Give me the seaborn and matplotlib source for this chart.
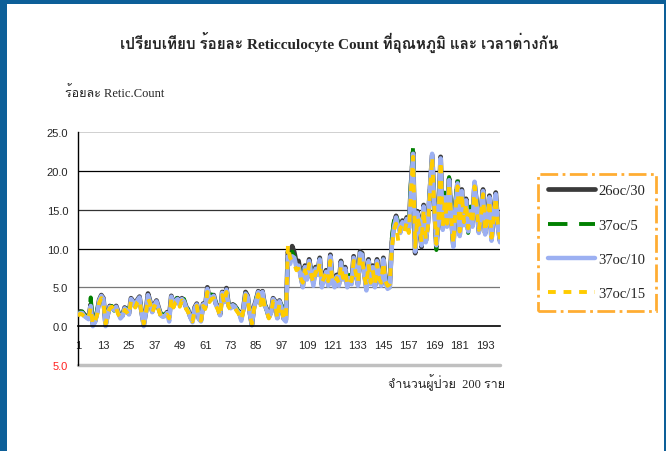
import numpy as np
import pandas as pd
import seaborn as sns
import matplotlib.pyplot as plt
from matplotlib import font_manager
from matplotlib.ft2font import FT2Font
from matplotlib.patches import Rectangle

# ข้อมูลผู้ป่วย 200 ราย (อ่านค่าจากกราฟ)
patients = list(range(1, 201))

s26_30 = [
    1.6, 1.9, 1.8, 1.5, 1.2, 1.0, 2.8, 0.3, 0.6, 1.8, 3.4, 4.0, 3.6, 0.2, 1.5, 2.6, 2.4, 2.2, 2.6, 1.8,
    1.2, 1.4, 2.4, 2.1, 1.6, 3.6, 3.2, 2.6, 3.4, 3.8, 1.8, 0.2, 1.8, 4.2, 3.2, 1.9, 2.8, 3.3, 2.4, 1.5,
    1.3, 1.4, 1.8, 1.2, 3.9, 2.6, 3.4, 3.6, 2.8, 3.6, 3.3, 2.5, 2.0, 1.2, 0.7, 2.4, 2.9, 1.0, 0.8, 2.9,
    2.5, 5.0, 3.4, 3.8, 4.0, 2.9, 2.4, 1.5, 4.4, 3.2, 4.9, 2.7, 2.4, 2.8, 2.6, 2.1, 1.8, 1.0, 2.3, 4.4,
    3.9, 1.8, 0.2, 2.5, 3.4, 4.5, 3.0, 4.5, 2.8, 2.2, 1.2, 1.8, 3.6, 3.2, 1.1, 3.3, 2.5, 1.0, 0.8, 9.6,
    8.6, 10.3, 9.5, 8.2, 8.4, 6.6, 5.2, 7.8, 6.2, 8.6, 7.0, 5.6, 7.6, 6.8, 8.8, 5.4, 6.2, 7.2, 5.6, 9.2,
    5.8, 5.2, 6.6, 5.4, 8.4, 6.2, 7.6, 5.2, 6.4, 5.6, 9.0, 7.2, 5.4, 9.6, 9.4, 6.8, 5.0, 8.6, 5.6, 7.8,
    5.2, 8.6, 6.4, 5.4, 8.8, 6.0, 5.0, 5.2, 10.8, 13.2, 14.2, 13.0, 12.2, 13.6, 12.8, 14.0, 12.6, 18.0, 22.4, 9.4,
    14.8, 13.6, 10.2, 15.6, 11.0, 13.4, 17.8, 22.0, 16.0, 10.2, 14.4, 21.8, 12.6, 16.8, 13.0, 19.0, 14.2, 10.4, 15.6, 18.6,
    11.8, 17.6, 13.2, 16.4, 12.4, 15.0, 13.0, 18.4, 15.8, 12.2, 14.8, 17.6, 12.0, 14.2, 16.8, 11.2, 14.6, 17.2, 13.0, 11.0,
]

s37_5 = [
    1.4, 1.8, 1.9, 1.4, 1.3, 1.1, 3.7, 0.4, 0.8, 2.0, 3.2, 3.8, 3.4, 0.4, 1.8, 2.4, 2.6, 2.0, 2.4, 1.6,
    1.1, 1.6, 2.2, 2.3, 1.8, 3.4, 3.0, 2.8, 3.2, 3.6, 2.0, 0.4, 2.0, 3.9, 3.0, 2.1, 2.6, 3.1, 2.2, 1.7,
    1.4, 1.6, 1.6, 1.4, 3.7, 2.8, 3.2, 3.8, 2.6, 3.4, 3.5, 2.3, 2.2, 1.4, 0.9, 2.2, 2.7, 1.2, 1.0, 2.7,
    2.7, 4.7, 3.6, 4.1, 3.8, 3.1, 2.2, 1.7, 4.2, 3.4, 4.6, 2.9, 2.2, 3.0, 2.4, 2.3, 1.6, 1.2, 2.5, 4.2,
    3.7, 2.0, 0.4, 2.7, 3.6, 4.3, 3.2, 4.3, 3.0, 2.0, 1.4, 2.0, 3.4, 3.0, 1.3, 3.1, 2.7, 1.2, 1.0, 9.2,
    8.2, 9.6, 9.0, 7.8, 8.0, 6.8, 5.4, 7.4, 6.4, 8.4, 7.2, 5.8, 7.4, 7.0, 8.6, 5.2, 6.4, 7.0, 5.2, 8.8,
    6.0, 5.4, 6.4, 5.6, 8.2, 6.4, 7.4, 5.4, 6.6, 5.4, 8.8, 7.4, 5.6, 9.4, 9.2, 7.0, 5.2, 8.4, 5.8, 7.6,
    5.4, 8.4, 6.6, 5.2, 8.6, 6.2, 5.2, 5.0, 11.4, 13.6, 14.6, 13.2, 12.4, 13.2, 13.0, 13.6, 12.8, 18.6, 23.0, 10.0,
    14.4, 13.8, 10.6, 15.2, 11.4, 13.0, 18.2, 21.6, 16.4, 9.8, 14.8, 21.4, 12.2, 17.2, 13.4, 19.2, 14.6, 10.0, 16.0, 19.0,
    12.0, 17.2, 13.6, 16.0, 12.0, 15.4, 13.4, 18.0, 16.0, 12.6, 14.4, 17.2, 12.4, 14.6, 16.4, 11.6, 14.2, 16.8, 13.4, 11.4,
]

s37_10 = [
    1.5, 1.7, 1.7, 1.3, 1.1, 0.9, 2.6, 0.0, 0.5, 1.6, 3.3, 3.9, 3.5, 0.0, 1.4, 2.5, 2.3, 2.1, 2.5, 1.7,
    1.0, 1.3, 2.3, 2.0, 1.5, 3.5, 3.1, 2.5, 3.3, 3.7, 1.7, 0.0, 1.7, 4.0, 3.1, 1.8, 2.7, 3.2, 2.3, 1.4,
    1.2, 1.3, 1.7, 0.6, 3.8, 2.5, 3.3, 3.5, 2.7, 3.5, 3.2, 2.4, 1.9, 1.1, 0.5, 2.3, 2.8, 0.9, 0.6, 2.8,
    2.4, 4.8, 3.3, 3.7, 3.9, 2.8, 2.3, 1.4, 4.3, 3.1, 4.7, 2.6, 2.3, 2.7, 2.5, 2.0, 1.7, 0.7, 2.2, 4.2,
    3.8, 1.7, 0.1, 2.4, 3.3, 4.4, 2.9, 4.4, 2.7, 2.1, 1.1, 1.7, 3.5, 3.1, 1.0, 3.2, 2.4, 0.9, 0.6, 9.0,
    8.0, 9.0, 8.8, 7.6, 7.8, 6.4, 5.0, 7.6, 6.0, 8.4, 6.8, 5.2, 7.4, 6.6, 8.6, 5.0, 6.0, 7.0, 5.2, 9.0,
    5.6, 5.0, 6.4, 5.2, 8.2, 6.0, 7.4, 5.0, 6.2, 5.4, 8.8, 7.0, 5.2, 9.4, 9.2, 6.6, 4.6, 8.4, 5.4, 7.6,
    5.0, 8.4, 6.2, 5.2, 8.6, 5.8, 4.8, 5.0, 10.4, 12.8, 14.0, 12.8, 12.0, 13.4, 12.6, 13.8, 12.4, 17.6, 22.2, 9.6,
    14.6, 13.4, 10.4, 15.4, 10.8, 13.2, 18.0, 22.2, 15.8, 10.4, 14.2, 21.6, 12.4, 16.6, 12.8, 18.8, 14.0, 10.2, 15.4, 18.4,
    11.6, 17.4, 13.0, 16.2, 12.2, 14.8, 12.8, 18.6, 15.6, 12.0, 14.6, 17.4, 11.8, 14.0, 16.6, 11.0, 14.4, 17.0, 12.8, 10.8,
]

s37_15 = [
    1.3, 1.6, 1.5, 1.2, 1.0, 1.0, 2.4, 0.2, 0.7, 1.4, 3.0, 3.6, 3.2, 0.3, 1.6, 2.3, 2.5, 1.9, 2.3, 1.5,
    1.2, 1.2, 2.1, 1.8, 1.4, 3.3, 2.9, 2.4, 3.1, 3.4, 1.6, 0.3, 1.6, 3.6, 2.9, 1.7, 2.5, 3.0, 2.1, 1.3,
    1.3, 1.2, 1.5, 1.0, 3.5, 2.4, 3.1, 3.3, 2.5, 3.3, 3.0, 2.2, 1.8, 1.0, 0.6, 2.1, 2.6, 1.0, 0.7, 2.6,
    2.2, 4.4, 3.1, 3.5, 3.6, 2.6, 2.1, 1.3, 4.0, 2.9, 4.4, 2.5, 2.1, 2.5, 2.3, 1.9, 1.5, 0.8, 2.0, 4.0,
    3.5, 1.6, 0.3, 2.2, 3.1, 4.1, 2.7, 4.1, 2.5, 1.9, 1.0, 1.6, 3.2, 2.9, 1.0, 2.9, 2.2, 1.0, 0.8, 10.4,
    8.8, 8.4, 8.0, 7.2, 7.4, 6.2, 5.6, 7.2, 6.4, 8.0, 6.6, 5.6, 7.0, 6.4, 8.2, 5.6, 6.2, 6.8, 5.8, 8.4,
    5.8, 5.6, 6.2, 5.6, 7.8, 6.2, 7.0, 5.4, 6.0, 5.8, 8.4, 6.8, 5.6, 9.0, 8.8, 6.4, 5.2, 8.0, 5.6, 7.2,
    5.4, 8.0, 6.0, 5.6, 8.2, 5.8, 5.2, 5.4, 10.0, 12.4, 13.2, 11.0, 12.6, 13.0, 12.2, 13.4, 12.0, 17.2, 21.8, 10.2,
    14.0, 13.0, 10.8, 15.0, 11.2, 12.8, 17.4, 21.8, 15.4, 10.6, 14.0, 21.2, 12.8, 16.2, 13.2, 18.4, 13.8, 10.6, 15.0, 18.0,
    12.2, 17.0, 13.4, 15.8, 12.6, 14.4, 13.2, 18.0, 15.2, 12.4, 14.2, 17.0, 12.2, 13.8, 16.2, 11.4, 14.0, 16.6, 13.2, 11.2,
]

series_names = ["26oc/30", "37oc/5", "37oc/10", "37oc/15"]
x_ticks = list(range(1, 200, 12))
y_ticks = [-5, 0, 5, 10, 15, 20, 25]

title = "เปรียบเทียบ ร้อยละ Reticculocyte Count ที่อุณหภูมิ และ เวลาต่างกัน"
y_title = "ร้อยละ Retic.Count"
x_title = "จำนวนผู้ป่วย  200 ราย"


# หาฟอนต์ที่มีอักษรไทย
def find_thai_font():
    for f in font_manager.fontManager.ttflist:
        try:
            if 0x0E23 in FT2Font(f.fname).get_charmap():
                return f.name
        except Exception:
            pass
    return "DejaVu Sans"


sns.set_style("white")
thai = find_thai_font()
plt.rcParams["font.family"] = ["Liberation Sans", thai]
serif = ["Liberation Serif", thai]

fig = plt.figure(figsize=(6.66, 4.52), dpi=100)
fig.patch.set_facecolor("#0d5f98")
fig.add_artist(Rectangle((7 / 666, 0), 657 / 666, 1 - 5 / 452,
                         transform=fig.transFigure, facecolor="white",
                         edgecolor="none", zorder=-10))

ax = fig.add_axes([78 / 666, 1 - 366 / 452, 422 / 666, 233 / 452])
ax.set_facecolor("white")

# linie siatki
for yv, c in zip([5, 10, 15, 20], ["#777777", "#000000", "#333333", "#000000"]):
    ax.axhline(yv, color=c, lw=0.9, zorder=1)
ax.axhline(25, color="#c8c8c8", lw=1.2, zorder=1)
ax.axhline(-5, color="#c0c0c0", lw=2.5, zorder=1, clip_on=False)

sns.lineplot(x=patients, y=s26_30, ax=ax, color="#3a3a3a", lw=3.4,
             label=series_names[0], zorder=3)
sns.lineplot(x=patients, y=s37_5, ax=ax, color="#008000", lw=2.8,
             ls=(0, (5, 3)), label=series_names[1], zorder=4)
sns.lineplot(x=patients, y=s37_10, ax=ax, color="#9cb0f2", lw=3.2,
             label=series_names[2], zorder=5)
sns.lineplot(x=patients, y=s37_15, ax=ax, color="#ffcc00", lw=2.8,
             ls=(0, (2, 2)), label=series_names[3], zorder=6)

ax.set_xlim(1, 200)
ax.set_ylim(-5, 25)
ax.set_xlabel("")
ax.set_ylabel("")

ax.spines["top"].set_visible(False)
ax.spines["right"].set_visible(False)
ax.spines["left"].set_color("black")
ax.spines["left"].set_linewidth(1)
ax.spines["bottom"].set_position(("data", 0))
ax.spines["bottom"].set_color("black")
ax.spines["bottom"].set_linewidth(1.2)
ax.spines["bottom"].set_zorder(7)

ax.set_xticks(x_ticks)
ax.set_xticklabels([str(v) for v in x_ticks], fontsize=8)
ax.set_xticks(patients, minor=True)
ax.tick_params(axis="x", which="major", direction="out", length=4, width=0.8,
               pad=6, color="black")
ax.tick_params(axis="x", which="minor", direction="out", length=4, width=0.5,
               color="black")

ax.set_yticks(y_ticks)
ax.set_yticklabels([f"{abs(v):.1f}" for v in y_ticks], fontsize=8)
ax.tick_params(axis="y", direction="out", length=4, width=0.8, pad=3, color="black")
ax.get_yticklabels()[0].set_color("#ff2020")

leg = ax.legend(loc="upper left", bbox_to_anchor=(538 / 666, 1 - 175 / 452),
                bbox_transform=fig.transFigure, prop={"family": serif, "size": 10.5},
                handlelength=3.2, labelspacing=1.45, borderpad=0.7,
                handletextpad=0.25, borderaxespad=0, fancybox=False)
frame = leg.get_frame()
frame.set_edgecolor("#ff9900")
frame.set_linewidth(2)
frame.set_linestyle("-.")

fig.text(0.51, 1 - 42 / 452, title, ha="center", va="center", fontsize=11,
         fontweight="bold", family=serif)
fig.text(65 / 666, 1 - 93 / 452, y_title, ha="left", va="center", fontsize=9,
         family=serif)
fig.text(505 / 666, 1 - 383 / 452, x_title, ha="right", va="center", fontsize=9,
         family=serif)

fig.savefig("out.png", dpi=100, facecolor=fig.get_facecolor())
